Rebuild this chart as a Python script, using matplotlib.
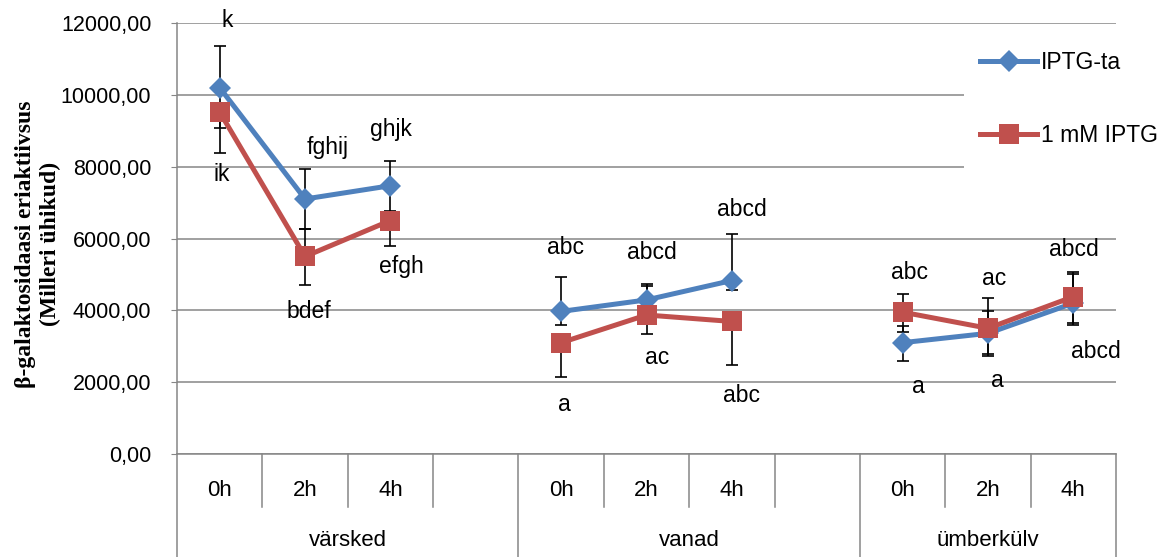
import numpy as np
import matplotlib
matplotlib.use('Agg')
import matplotlib.pyplot as plt
from matplotlib.patches import Rectangle

plt.rcParams['font.family'] = ['Liberation Sans', 'DejaVu Sans']

# categories on the x axis (empty slot = gap between groups)
hours = ['0h', '2h', '4h', '', '0h', '2h', '4h', '', '0h', '2h', '4h']
groups = ['värsked', 'vanad', 'ümberkülv']
group_slots = [(0, 3), (4, 7), (8, 10)]

nan = np.nan
iptg_ta = [10200, 7100, 7470, nan, 3970, 4290, 4830, nan, 3100, 3360, 4200]
iptg_1mm = [9520, 5500, 6500, nan, 3100, 3870, 3690, nan, 3950, 3500, 4380]

# error bars (minus, plus)
ta_minus = [1110, 840, 700, nan, 380, 450, 260, nan, 500, 570, 620]
ta_plus = [1170, 830, 700, nan, 950, 450, 1290, nan, 470, 620, 800]
mm_minus = [1140, 800, 700, nan, 970, 530, 1210, nan, 540, 760, 730]
mm_plus = [0, 760, 0, nan, 0, 810, 0, nan, 510, 840, 690]

# significance letters above / below each point
top_letters = ['k', 'fghij', 'ghjk', 'abc', 'abcd', 'abcd', 'abc', 'ac', 'abcd']
bottom_letters = ['ik', 'bdef', 'efgh', 'a', 'ac', 'abc', 'a', 'a', 'abcd']
letter_x = [0, 1, 2, 4, 5, 6, 8, 9, 10]
top_pos = [(0.09, 12060), (0.27, 8520), (0.01, 9030), (0.05, 5740), (0.06, 5600),
           (0.12, 6800), (0.08, 5040), (0.07, 4900), (0.01, 5680)]
bottom_pos = [(0.02, 7770), (0.04, 3960), (0.13, 5210), (0.04, 1370), (0.13, 2700),
              (0.11, 1640), (0.19, 1890), (0.11, 2060), (0.27, 2840)]

blue = '#4F81BD'
red = '#C0504D'
grey = '#868686'

fig = plt.figure(figsize=(11.62, 5.57), dpi=100)
ax = fig.add_axes([177/1162, 1-454/557, (1116-177)/1162, (454-23)/557])

x = np.arange(len(hours))

ax.errorbar(x, iptg_ta, yerr=[ta_minus, ta_plus], fmt='none', ecolor='black',
            elinewidth=1.2, capsize=4.5, capthick=1.2, zorder=3)
ax.errorbar(x, iptg_1mm, yerr=[mm_minus, mm_plus], fmt='none', ecolor='black',
            elinewidth=1.2, capsize=4.5, capthick=1.2, zorder=3)
l1, = ax.plot(x, iptg_ta, color=blue, lw=3.6, marker='D', ms=11.5,
              markeredgewidth=0, zorder=4, label='IPTG-ta')
l2, = ax.plot(x, iptg_1mm, color=red, lw=3.6, marker='s', ms=14,
              markeredgewidth=0, zorder=5, label='1 mM IPTG')

for xi, txt, (dx, yv) in zip(letter_x, top_letters, top_pos):
    ax.text(xi + dx, yv, txt, ha='center', va='center', fontsize=16.5, zorder=6)
for xi, txt, (dx, yv) in zip(letter_x, bottom_letters, bottom_pos):
    ax.text(xi + dx, yv, txt, ha='center', va='center', fontsize=16.5, zorder=6)

ax.set_xlim(-0.5, len(hours) - 0.5)
ax.set_ylim(0, 12000)
ax.set_yticks(np.arange(0, 12001, 2000))
ax.set_yticklabels(['%d,00' % v for v in np.arange(0, 12001, 2000)], fontsize=15.5)
ax.tick_params(axis='y', length=4.5, color=grey, pad=14)
ax.set_xticks([])
ax.grid(axis='y', color=grey, lw=1.1, zorder=0)
ax.set_axisbelow(True)
for s in ['top', 'right']:
    ax.spines[s].set_visible(False)
ax.spines['left'].set_color(grey)
ax.spines['bottom'].set_color(grey)
ax.spines['left'].set_linewidth(1.1)
ax.spines['bottom'].set_linewidth(1.1)

# two-level category axis
tr = ax.get_xaxis_transform()
outer = [-0.5] + [b + 0.5 for a, b in group_slots]
for i in range(len(hours) + 1):
    xb = i - 0.5
    y_end = -0.239 if xb in outer else -0.123
    ax.plot([xb, xb], [0, y_end], transform=tr, color=grey, lw=1.1, clip_on=False)
for i, h in enumerate(hours):
    ax.text(i, -0.085, h, transform=tr, ha='center', va='center', fontsize=16)
for g, (a, b) in zip(groups, group_slots):
    ax.text((a + b) / 2, -0.2, g, transform=tr, ha='center', va='center', fontsize=16)

# white legend area hides the gridlines behind it
ax.add_patch(Rectangle((0.838, 0.59), 0.3, 0.38, transform=ax.transAxes,
                       facecolor='white', edgecolor='none', zorder=1, clip_on=False))
ax.legend(handles=[l1, l2], loc='upper left', bbox_to_anchor=(980/1162, 1-51/557),
          bbox_transform=fig.transFigure, frameon=False, fontsize=16.5,
          handlelength=2.5, handletextpad=0.15, labelspacing=2.2, borderpad=0,
          borderaxespad=0, markerscale=1.0)

fig.text(38/1162, 1-244/557, 'β-galaktosidaasi eriaktiivsus\n(Milleri ühikud)',
         rotation=90, ha='center', va='center', multialignment='center',
         family=['Liberation Serif', 'DejaVu Serif'], fontweight='bold', fontsize=17)

fig.savefig('out.png', dpi=100)
